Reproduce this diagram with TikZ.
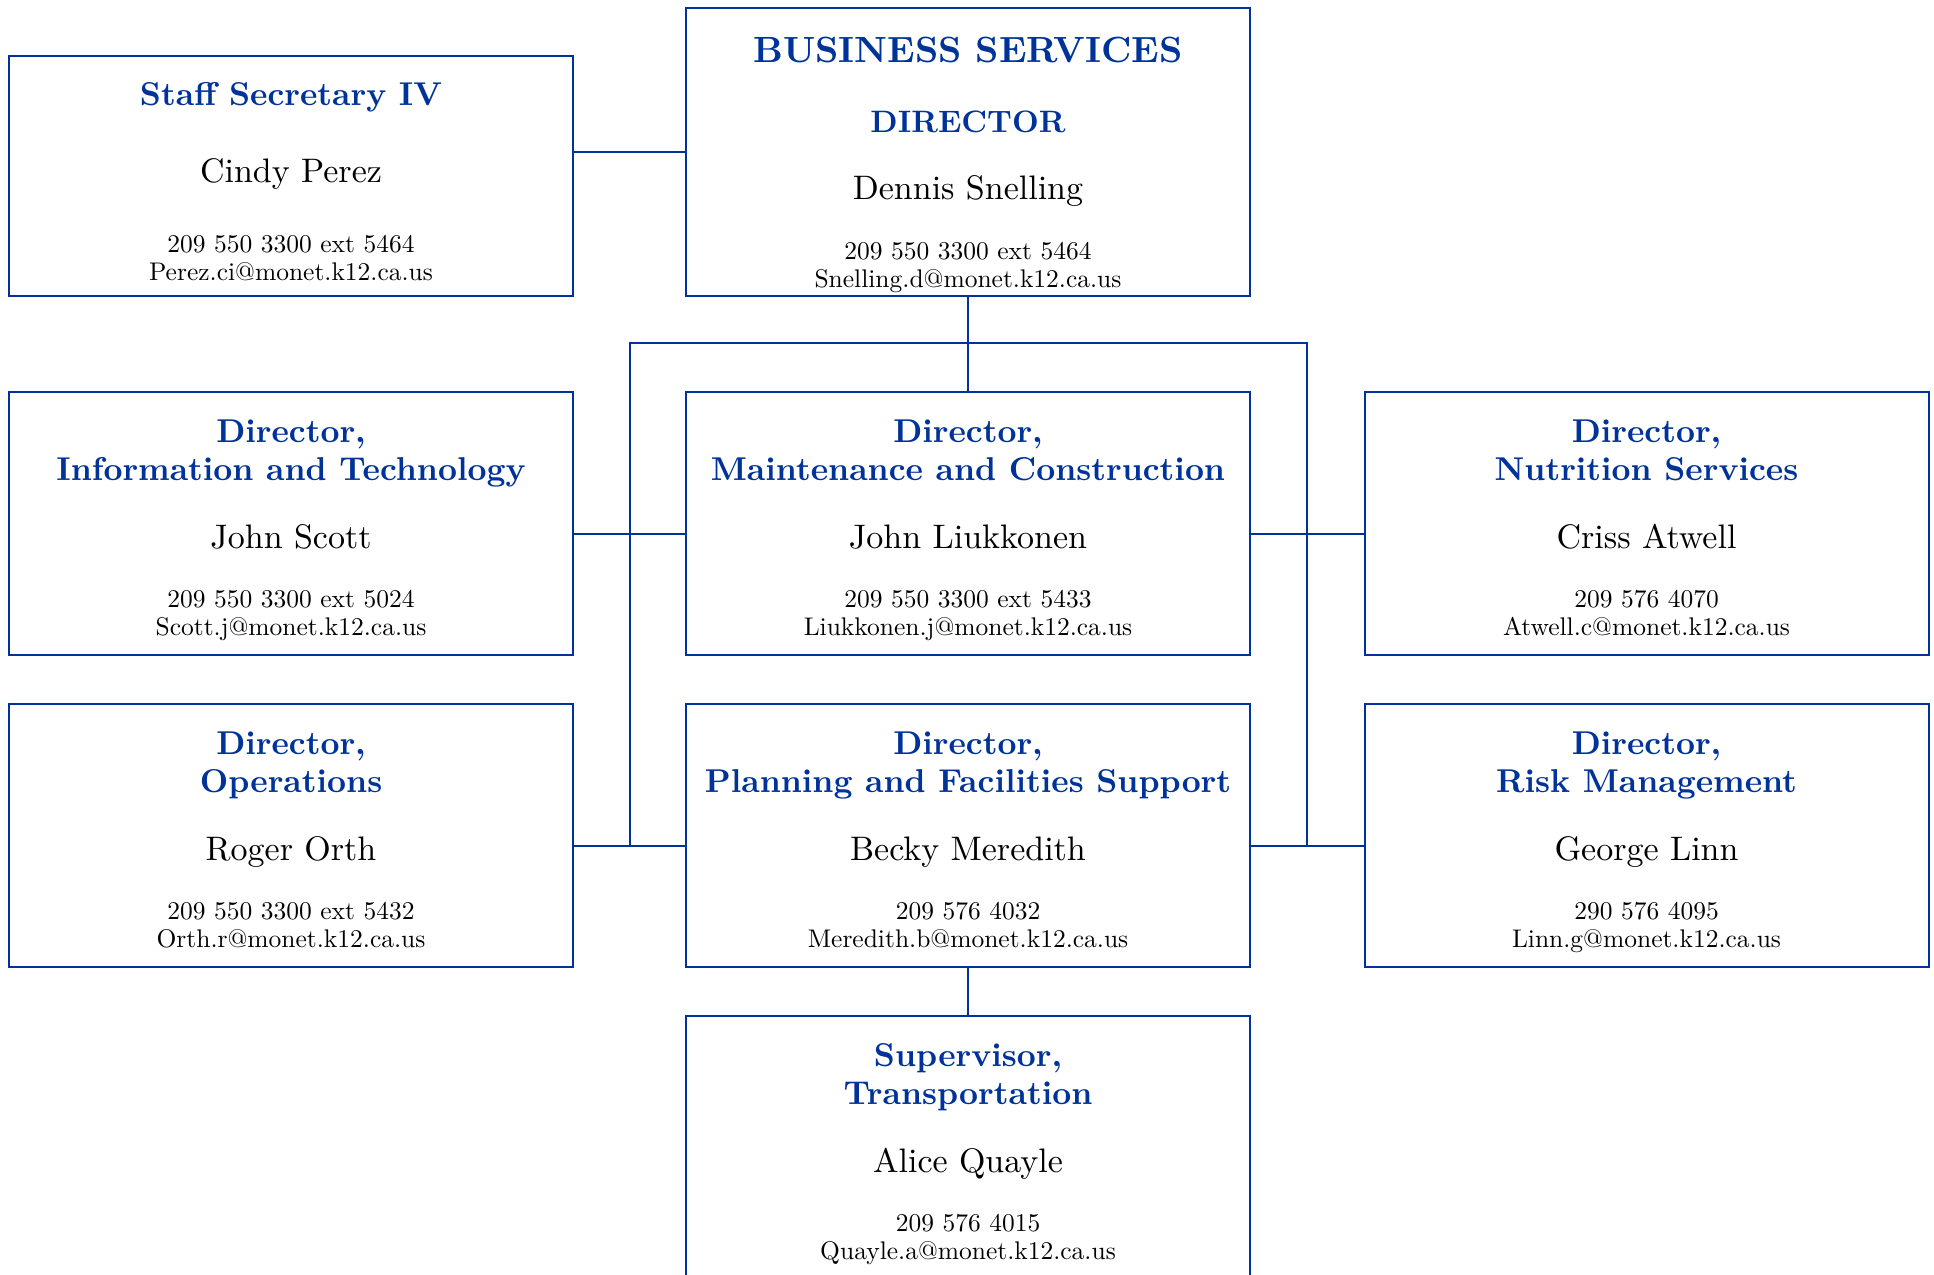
\documentclass[tikz,border=0pt]{standalone}
\usepackage{fontspec}
\setmainfont{lmroman10-regular.otf}[BoldFont=lmroman10-bold.otf]
\usetikzlibrary{calc}
\definecolor{orgblue}{RGB}{0,51,153}
\tikzset{
  card/.style={draw=orgblue, line width=2pt, minimum width=564pt, minimum height=263pt, inner sep=0pt, anchor=north},
  link/.style={draw=orgblue, line width=2pt},
  ttl/.style={text=orgblue, font=\fontsize{33}{38}\selectfont\bfseries, anchor=base, inner sep=0pt},
  who/.style={font=\fontsize{34}{40}\selectfont, anchor=base, inner sep=0pt},
  info/.style={font=\fontsize{25.5}{28}\selectfont, anchor=base, inner sep=0pt},
}
\begin{document}
\begin{tikzpicture}[x=1pt,y=-1pt]
\useasboundingbox (0,0) rectangle (1934,1274);
\clip (0,0) rectangle (1934,1274);

% top row
\node[card, minimum height=240pt] (staff) at (291,54.5) {};
\node[ttl] (staffT) at (291,105) {Staff Secretary IV};
\node[who] (staffN) at (291,182.7) {Cindy Perez};
\node[info] (staffP) at (291,252.3) {209 550 3300 ext 5464};
\node[info] (staffE) at (291,280.7) {Perez.ci@monet.k12.ca.us};

\node[card, minimum height=288pt] (biz) at (968,6.7) {};
\node[ttl, font=\fontsize{36.5}{42}\selectfont\bfseries] (bizT) at (968,62.3) {BUSINESS SERVICES};
\node[ttl, font=\fontsize{31}{38}\selectfont\bfseries] (bizD) at (968,132.3) {DIRECTOR};
\node[who] (bizN) at (968,199) {Dennis Snelling};
\node[info] (bizP) at (968,259) {209 550 3300 ext 5464};
\node[info] (bizE) at (968,287.3) {Snelling.d@monet.k12.ca.us};

% row 2 (top 391)
\node[card] (it) at (291,391) {};
\node[ttl] (itT1) at (291,442) {Director,};
\node[ttl] (itT2) at (291,480.3) {Information and Technology};
\node[who] (itN) at (291,548) {John Scott};
\node[info] (itP) at (291,607) {209 550 3300 ext 5024};
\node[info] (itE) at (291,635.3) {Scott.j@monet.k12.ca.us};

\node[card] (maint) at (968,391) {};
\node[ttl] (maintT1) at (968,442) {Director,};
\node[ttl] (maintT2) at (968,480.3) {Maintenance and Construction};
\node[who] (maintN) at (968,548) {John Liukkonen};
\node[info] (maintP) at (968,607) {209 550 3300 ext 5433};
\node[info] (maintE) at (968,635.3) {Liukkonen.j@monet.k12.ca.us};

\node[card] (nut) at (1646.5,391) {};
\node[ttl] (nutT1) at (1646.5,442) {Director,};
\node[ttl] (nutT2) at (1646.5,480.3) {Nutrition Services};
\node[who] (nutN) at (1646.5,548) {Criss Atwell};
\node[info] (nutP) at (1646.5,607) {209 576 4070};
\node[info] (nutE) at (1646.5,635.3) {Atwell.c@monet.k12.ca.us};

% row 3 (top 703)
\node[card] (ops) at (291,703) {};
\node[ttl] (opsT1) at (291,754) {Director,};
\node[ttl] (opsT2) at (291,792.3) {Operations};
\node[who] (opsN) at (291,860) {Roger Orth};
\node[info] (opsP) at (291,919) {209 550 3300 ext 5432};
\node[info] (opsE) at (291,947.3) {Orth.r@monet.k12.ca.us};

\node[card] (plan) at (968,703) {};
\node[ttl] (planT1) at (968,754) {Director,};
\node[ttl] (planT2) at (968,792.3) {Planning and Facilities Support};
\node[who] (planN) at (968,860) {Becky Meredith};
\node[info] (planP) at (968,919) {209 576 4032};
\node[info] (planE) at (968,947.3) {Meredith.b@monet.k12.ca.us};

\node[card] (risk) at (1646.5,703) {};
\node[ttl] (riskT1) at (1646.5,754) {Director,};
\node[ttl] (riskT2) at (1646.5,792.3) {Risk Management};
\node[who] (riskN) at (1646.5,860) {George Linn};
\node[info] (riskP) at (1646.5,919) {290 576 4095};
\node[info] (riskE) at (1646.5,947.3) {Linn.g@monet.k12.ca.us};

% row 4 (top 1015)
\node[card] (trans) at (968,1015) {};
\node[ttl] (transT1) at (968,1066) {Supervisor,};
\node[ttl] (transT2) at (968,1104.3) {Transportation};
\node[who] (transN) at (968,1172) {Alice Quayle};
\node[info] (transP) at (968,1231) {209 576 4015};
\node[info] (transE) at (968,1259.3) {Quayle.a@monet.k12.ca.us};

% connectors
\coordinate (r2) at (0,534);
\coordinate (r3) at (0,846);
\coordinate (busL) at (629.5,342.7);
\coordinate (busR) at (1306.5,342.7);
\draw[link] (biz.west) -- (biz.west -| staff.east);
\draw[link] (biz.south) -- (maint.north);
\draw[link] (busL |- r3) -- (busL) -- (busR) -- (busR |- r3);
\draw[link] (it.east |- r2) -- (maint.west |- r2);
\draw[link] (maint.east |- r2) -- (nut.west |- r2);
\draw[link] (ops.east |- r3) -- (plan.west |- r3);
\draw[link] (plan.east |- r3) -- (risk.west |- r3);
\draw[link] (plan.south) -- (trans.north);
\end{tikzpicture}
\end{document}
